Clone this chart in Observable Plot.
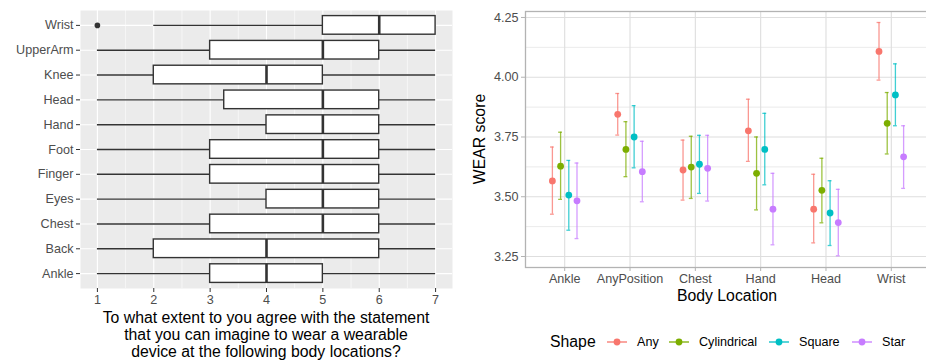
<!DOCTYPE html>
<html>
<head>
<meta charset="utf-8">
<script src="https://cdn.jsdelivr.net/npm/d3@7"></script>
<script src="https://cdn.jsdelivr.net/npm/@observablehq/plot@0.6"></script>
<style>
  html, body { margin: 0; padding: 0; background: #fff; overflow: hidden; }
  #root { position: relative; width: 926px; height: 361px; overflow: hidden; font-family: "Liberation Sans", Arial, sans-serif; }
  .abs { position: absolute; white-space: nowrap; }
  .title { font-size: 15.8px; color: #000; }
  .lab { font-size: 12.6px; color: #000; }
</style>
</head>
<body>
<div id="root"></div>
<script>
// ---------- Left panel: boxplot data ----------
const boxLocations = ["Wrist","UpperArm","Knee","Head","Hand","Foot","Finger","Eyes","Chest","Back","Ankle"];
const boxLow    = [2, 1, 1, 1,    1, 1, 1, 1, 1, 1, 1];
const boxQ1     = [5, 3, 2, 3.25, 4, 3, 3, 4, 3, 2, 3];
const boxMedian = [6, 5, 4, 5,    5, 5, 5, 5, 5, 4, 4];
const boxQ3     = [7, 6, 5, 6,    6, 6, 6, 6, 6, 6, 5];
const boxHigh   = [7, 7, 7, 7,    7, 7, 7, 7, 7, 7, 7];
const outlierLocations = ["Wrist"];
const outlierValues = [1];
const agreeTicks = [1, 2, 3, 4, 5, 6, 7];
const agreeMinor = [1.5, 2.5, 3.5, 4.5, 5.5, 6.5];

// ---------- Right panel: WEAR score data ----------
const locations = ["Ankle","AnyPosition","Chest","Hand","Head","Wrist"];
const shapes = ["Any","Cylindrical","Square","Star"];
const shapeColors = ["#F8766D","#7CAE00","#00BFC4","#C77CFF"];
const anyMean  = [3.566, 3.845, 3.612, 3.776, 3.448, 4.108];
const anyLow   = [3.427, 3.758, 3.486, 3.648, 3.307, 3.988];
const anyHigh  = [3.708, 3.932, 3.737, 3.908, 3.594, 4.229];
const cylMean  = [3.628, 3.698, 3.624, 3.598, 3.527, 3.807];
const cylLow   = [3.489, 3.584, 3.493, 3.445, 3.391, 3.679];
const cylHigh  = [3.770, 3.814, 3.753, 3.750, 3.661, 3.936];
const sqMean   = [3.507, 3.750, 3.636, 3.698, 3.432, 3.926];
const sqLow    = [3.360, 3.621, 3.514, 3.550, 3.296, 3.797];
const sqHigh   = [3.652, 3.881, 3.757, 3.849, 3.567, 4.056];
const starMean = [3.483, 3.605, 3.619, 3.448, 3.392, 3.667];
const starLow  = [3.325, 3.479, 3.482, 3.299, 3.253, 3.535];
const starHigh = [3.641, 3.732, 3.757, 3.598, 3.531, 3.797];
const wearTicks = [3.25, 3.5, 3.75, 4.0, 4.25];
const wearMinor = [3.375, 3.625, 3.875, 4.125];

const FONT = '"Liberation Sans", Arial, sans-serif';
const root = document.getElementById("root");

// ---------- build left chart ----------
const boxRows = boxLocations.map((loc, i) => ({
  loc, low: boxLow[i], q1: boxQ1[i], med: boxMedian[i], q3: boxQ3[i], high: boxHigh[i]
}));
const outlierRows = outlierLocations.map((loc, i) => ({loc, v: outlierValues[i]}));

const left = Plot.plot({
  width: 460, height: 310,
  marginLeft: 80, marginRight: 8, marginTop: 10, marginBottom: 22,
  style: {fontFamily: FONT, fontSize: "12.6px", color: "#4d4d4d", background: "transparent", overflow: "visible"},
  x: {domain: [0.7, 7.3]},
  y: {type: "band", domain: boxLocations, paddingInner: 0.25, paddingOuter: 0.225, round: false},
  marks: [
    Plot.frame({fill: "#ebebeb", stroke: null}),
    Plot.gridX(agreeMinor, {stroke: "#fff", strokeOpacity: 1, strokeWidth: 0.55}),
    Plot.gridX(agreeTicks, {stroke: "#fff", strokeOpacity: 1, strokeWidth: 1.1}),
    Plot.gridY(boxLocations, {stroke: "#fff", strokeOpacity: 1, strokeWidth: 1.1}),
    Plot.ruleY(boxRows, {y: "loc", x1: "low", x2: "high", stroke: "#333", strokeWidth: 1.4}),
    Plot.barX(boxRows, {y: "loc", x1: "q1", x2: "q3", fill: "#fff", stroke: "#333", strokeWidth: 1.4}),
    Plot.tickX(boxRows, {y: "loc", x: "med", stroke: "#333", strokeWidth: 2.6}),
    Plot.dot(outlierRows, {y: "loc", x: "v", r: 2.8, fill: "#333", stroke: null}),
    Plot.axisX({ticks: agreeTicks, tickFormat: d3.format("d"), tickSize: 4, tickPadding: 3, label: null, stroke: "#333", fill: "#4d4d4d"}),
    Plot.axisY({tickSize: 4, tickPadding: 3, label: null, stroke: "#333", fill: "#4d4d4d"})
  ]
});
left.style.position = "absolute";
left.style.left = "0px";
left.style.top = "0px";
root.appendChild(left);

// ---------- build right chart ----------
const seriesMeans = [anyMean, cylMean, sqMean, starMean];
const seriesLows = [anyLow, cylLow, sqLow, starLow];
const seriesHighs = [anyHigh, cylHigh, sqHigh, starHigh];
const dodge = [-12.3, -4.1, 4.1, 12.3];

const seriesMarks = [];
shapes.forEach((shape, s) => {
  const rows = locations.map((loc, i) => ({loc, shape, mean: seriesMeans[s][i], low: seriesLows[s][i], high: seriesHighs[s][i]}));
  const c = shapeColors[s];
  const dx = dodge[s];
  seriesMarks.push(
    Plot.ruleX(rows, {x: "loc", y1: "low", y2: "high", stroke: c, strokeWidth: 1.3, strokeOpacity: 0.75, dx}),
    Plot.tickY(rows, {x: "loc", y: "low", stroke: c, strokeWidth: 1.3, strokeOpacity: 0.75, dx, insetLeft: -0.3, insetRight: -0.3}),
    Plot.tickY(rows, {x: "loc", y: "high", stroke: c, strokeWidth: 1.3, strokeOpacity: 0.75, dx, insetLeft: -0.3, insetRight: -0.3}),
    Plot.dot(rows, {x: "loc", y: "mean", r: 3.4, fill: c, stroke: null, dx})
  );
});

const right = Plot.plot({
  width: 470, height: 310,
  marginLeft: 65, marginRight: 0, marginTop: 11, marginBottom: 43,
  style: {fontFamily: FONT, fontSize: "12.6px", color: "#4d4d4d", background: "transparent", overflow: "visible"},
  x: {type: "band", domain: locations, paddingInner: 0.95, paddingOuter: 0.575, round: false},
  y: {domain: [3.204, 4.275]},
  marks: [
    Plot.gridY(wearMinor, {stroke: "#dedede", strokeOpacity: 1, strokeWidth: 0.6}),
    Plot.gridY(wearTicks, {stroke: "#dedede", strokeOpacity: 1, strokeWidth: 1.1}),
    Plot.gridX(locations, {stroke: "#dedede", strokeOpacity: 1, strokeWidth: 1.1}),
    ...seriesMarks,
    Plot.frame({stroke: "#b3b3b3", strokeWidth: 1.3}),
    Plot.axisX({tickSize: 4, tickPadding: 3, label: null, stroke: "#b3b3b3", fill: "#4d4d4d"}),
    Plot.axisY({ticks: wearTicks, tickFormat: d3.format(".2f"), tickSize: 4, tickPadding: 3, label: null, stroke: "#b3b3b3", fill: "#4d4d4d"})
  ]
});
right.style.position = "absolute";
right.style.left = "460px";
right.style.top = "0px";
root.appendChild(right);

// ---------- text: axis titles and legend ----------
function addText(txt, cls, css) {
  const d = document.createElement("div");
  d.className = "abs " + cls;
  d.textContent = txt;
  Object.assign(d.style, css);
  root.appendChild(d);
  return d;
}
const leftTitle = document.createElement("div");
leftTitle.className = "abs title";
Object.assign(leftTitle.style, {left: "66px", width: "400px", top: "309px", textAlign: "center", lineHeight: "17px"});
leftTitle.innerHTML = "To what extent to you agree with the statement<br>that you can imagine to wear a wearable<br>device at the following body locations?";
root.appendChild(leftTitle);

addText("Body Location", "title", {left: "627px", width: "200px", textAlign: "center", top: "287px", lineHeight: "18px"});
addText("WEAR score", "title", {left: "380px", width: "200px", textAlign: "center", top: "130px", lineHeight: "18px", transform: "rotate(-90deg)"});

// legend
addText("Shape", "title", {left: "550px", top: "333px", lineHeight: "18px"});
const keyX = [607, 669, 769, 852];
const labelX = [637, 699, 799, 882];
shapes.forEach((shape, s) => {
  const svg = d3.create("svg").attr("width", 20).attr("height", 12)
    .style("position", "absolute").style("left", keyX[s] + "px").style("top", "336px");
  svg.append("line").attr("x1", 0).attr("x2", 20).attr("y1", 6).attr("y2", 6)
    .attr("stroke", shapeColors[s]).attr("stroke-width", 1.3);
  svg.append("circle").attr("cx", 10).attr("cy", 6).attr("r", 3.4).attr("fill", shapeColors[s]);
  root.appendChild(svg.node());
  addText(shape, "lab", {left: labelX[s] + "px", top: "334px", lineHeight: "16px"});
});
</script>
</body>
</html>
